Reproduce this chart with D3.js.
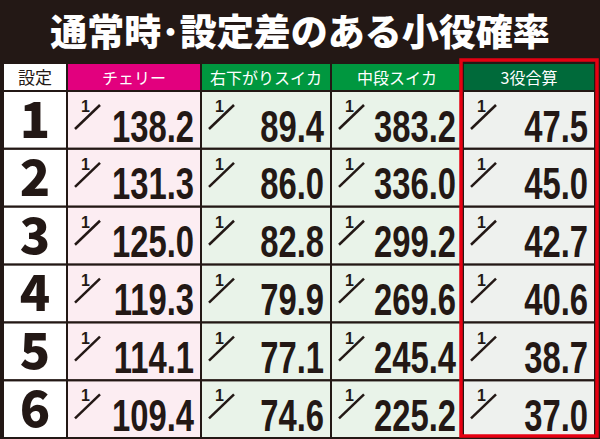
<!DOCTYPE html>
<html><head><meta charset="utf-8">
<script src="https://cdn.jsdelivr.net/npm/d3@7"></script>
<style>body{margin:0;background:#fff}</style>
</head><body>
<svg id="chart" width="600" height="439"></svg>
<script>
var title = "通常時･設定差のある小役確率";
var settings = ["1", "2", "3", "4", "5", "6"];
var columns = ["チェリー", "右下がりスイカ", "中段スイカ", "3役合算"];
var cherry = [138.2, 131.3, 125.0, 119.3, 114.1, 109.4];
var suikaDown = [89.4, 86.0, 82.8, 79.9, 77.1, 74.6];
var suikaMid = [383.2, 336.0, 299.2, 269.6, 245.4, 225.2];
var total = [47.5, 45.0, 42.7, 40.6, 38.7, 37.0];
var series = [cherry, suikaDown, suikaMid, total];

var headColors = ["#e2007e", "#00973f", "#00973f", "#006a3a"];
var cellColors = ["#fcedf2", "#e9f3e9", "#e9f3e9", "#eef1ee"];

var svg = d3.select("#chart");
svg.append("rect").attr("width", 600).attr("height", 439).attr("fill", "#231815");

svg.append("text").attr("x", 300).attr("y", 46).attr("text-anchor", "middle")
  .attr("font-family", "Noto Sans CJK JP").attr("font-weight", 900)
  .attr("font-size", 37).attr("fill", "#fff").text(title);

var colX = [4, 68, 202, 332, 464, 596];
var y = d3.scaleBand().domain(settings).range([92, 437]).paddingInner(0.04);

// header
svg.append("rect").attr("x", colX[0]).attr("y", 64).attr("width", colX[1] - colX[0] - 2).attr("height", 26).attr("fill", "#fff");
svg.append("text").attr("x", 35).attr("y", 84).attr("text-anchor", "middle")
  .attr("font-family", "Noto Sans CJK JP").attr("font-size", 17).attr("fill", "#231815").text("設定");
columns.forEach(function (c, i) {
  var x0 = colX[i + 1], w = colX[i + 2] - x0 - 2;
  svg.append("rect").attr("x", x0).attr("y", 64).attr("width", w).attr("height", 26).attr("fill", headColors[i]);
  svg.append("text").attr("x", x0 + w / 2).attr("y", 84).attr("text-anchor", "middle")
    .attr("font-family", "Noto Sans CJK JP").attr("font-size", 16).attr("fill", "#fff").text(c);
});

// rows
settings.forEach(function (s, r) {
  var y0 = y(s), h = y.bandwidth();
  svg.append("rect").attr("x", colX[0]).attr("y", y0).attr("width", colX[1] - colX[0] - 2).attr("height", h).attr("fill", "#fff");
  svg.append("text").attr("x", 35).attr("y", y0 + h / 2 + 18).attr("text-anchor", "middle")
    .attr("font-family", "Noto Sans CJK JP").attr("font-weight", 900).attr("font-size", 50)
    .attr("fill", "#231815").text(s);
  series.forEach(function (vals, i) {
    var x0 = colX[i + 1], w = colX[i + 2] - x0 - 2;
    svg.append("rect").attr("x", x0).attr("y", y0).attr("width", w).attr("height", h).attr("fill", cellColors[i]);
    svg.append("text").attr("x", x0 + 13).attr("y", y0 + 20)
      .attr("font-family", "Liberation Sans").attr("font-weight", "bold")
      .attr("font-size", 16).attr("fill", "#231815").text("1");
    svg.append("line").attr("x1", x0 + 7).attr("y1", y0 + 37).attr("x2", x0 + 32).attr("y2", y0 + 13)
      .attr("stroke", "#231815").attr("stroke-width", 2.5);
    svg.append("text").attr("transform", "translate(" + (x0 + w - 6) + "," + (y0 + h - 6) + ") scale(0.82,1.12)")
      .attr("text-anchor", "end")
      .attr("font-family", "Liberation Sans").attr("font-weight", "bold")
      .attr("font-size", 40).attr("fill", "#231815")
      .text(vals[r].toFixed(1));
  });
});

svg.append("rect").attr("x", 461).attr("y", 60).attr("width", 136).attr("height", 376)
  .attr("fill", "none").attr("stroke", "#e60012").attr("stroke-width", 3.5);
</script>
</body></html>
